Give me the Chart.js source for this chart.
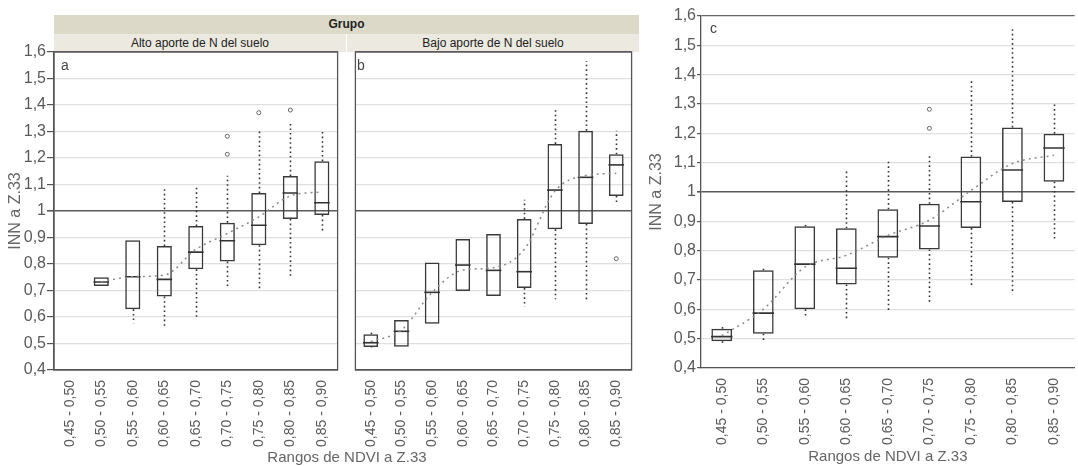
<!DOCTYPE html>
<html>
<head>
<meta charset="utf-8">
<script src="https://cdn.jsdelivr.net/npm/chart.js@4.4.1/dist/chart.umd.min.js"></script>
<style>
  html, body { margin:0; padding:0; background:#fff; }
  body { width:1078px; height:466px; overflow:hidden; position:relative; font-family:'Liberation Sans', Arial, sans-serif; }
  canvas { position:absolute; top:0; }
  .txt { position:absolute; white-space:nowrap; }
</style>
</head>
<body>
<div class="txt" style="left:54px;top:15px;width:585px;height:19px;line-height:19px;background:#dcd9c8;text-align:center;font-weight:bold;font-size:12px;color:#222;">Grupo</div>
<div class="txt" style="left:54px;top:34px;width:292px;height:18px;line-height:18px;background:#ebe9e0;text-align:center;font-size:12px;color:#222;">Alto aporte de N del suelo</div>
<div class="txt" style="left:347px;top:34px;width:292px;height:18px;line-height:18px;background:#ebe9e0;text-align:center;font-size:12px;color:#222;">Bajo aporte de N del suelo</div>
<canvas id="cA" width="347" height="466" style="left:0px"></canvas>
<canvas id="cB" width="295" height="466" style="left:346px"></canvas>
<canvas id="cC" width="447" height="466" style="left:640px"></canvas>
<div class="txt" style="left:61px;top:57px;font-size:14px;color:#444;">a</div>
<div class="txt" style="left:357px;top:57px;font-size:14px;color:#444;">b</div>
<div class="txt" style="left:710px;top:20px;font-size:14px;color:#444;">c</div>
<div class="txt" style="left:247px;top:448px;width:200px;text-align:center;font-size:15px;color:#666;">Rangos de NDVI a Z.33</div>
<script>
const categories = ['0,45 - 0,50','0,50 - 0,55','0,55 - 0,60','0,60 - 0,65','0,65 - 0,70','0,70 - 0,75','0,75 - 0,80','0,80 - 0,85','0,85 - 0,90'];
const yTitle = 'INN a Z.33';
const xTitle = 'Rangos de NDVI a Z.33';

// Panel a: Alto aporte de N del suelo
const aQ1   = [null, 0.717, 0.629, 0.677, 0.780, 0.809, 0.871, 0.970, 0.985];
const aQ3   = [null, 0.750, 0.890, 0.868, 0.943, 0.956, 1.068, 1.132, 1.188];
const aMed  = [null, 0.732, 0.752, 0.742, 0.845, 0.888, 0.946, 1.068, 1.031];
const aLow  = [null, 0.717, 0.576, 0.561, 0.601, 0.717, 0.708, 0.750, 0.916];
const aHigh = [null, 0.750, 0.890, 1.089, 1.098, 1.133, 1.303, 1.328, 1.299];
const aOutCat = ['0,70 - 0,75','0,70 - 0,75','0,75 - 0,80','0,80 - 0,85'];
const aOutVal = [1.214, 1.282, 1.371, 1.381];
const aTrend = [null, 0.733, 0.752, 0.758, 0.855, 0.915, 0.978, 1.057, 1.072];

// Panel b: Bajo aporte de N del suelo
const bQ1   = [0.487, 0.488, 0.575, 0.698, 0.679, 0.709, 0.931, 0.951, 1.057];
const bQ3   = [0.535, 0.589, 0.806, 0.894, 0.913, 0.970, 1.253, 1.303, 1.214];
const bMed  = [0.503, 0.546, 0.693, 0.796, 0.776, 0.771, 1.079, 1.127, 1.174];
const bLow  = [0.485, 0.488, 0.575, 0.698, 0.679, 0.639, 0.667, 0.664, 1.031];
const bHigh = [0.541, 0.589, 0.806, 0.894, 0.913, 1.042, 1.388, 1.566, 1.303];
const bOutCat = ['0,85 - 0,90'];
const bOutVal = [0.820];
const bTrend = [0.507, 0.551, 0.693, 0.777, 0.786, 0.855, 1.075, 1.134, 1.142];

// Panel c: todos
const cQ1   = [0.491, 0.517, 0.600, 0.685, 0.776, 0.804, 0.877, 0.966, 1.035];
const cQ3   = [0.534, 0.733, 0.883, 0.876, 0.941, 0.960, 1.121, 1.220, 1.199];
const cMed  = [0.507, 0.587, 0.754, 0.740, 0.848, 0.884, 0.967, 1.075, 1.150];
const cLow  = [0.485, 0.489, 0.574, 0.560, 0.594, 0.623, 0.674, 0.651, 0.835];
const cHigh = [0.540, 0.740, 0.888, 1.080, 1.104, 1.124, 1.381, 1.557, 1.303];
const cOutCat = ['0,70 - 0,75','0,70 - 0,75'];
const cOutVal = [1.217, 1.282];
const cTrend = [0.510, 0.600, 0.744, 0.784, 0.852, 0.904, 1.005, 1.097, 1.125];

Chart.defaults.font.family = "'Liberation Sans', Arial, sans-serif";
Chart.defaults.animation = false;

function fmt(v) {
  const r = Math.round(v * 10) / 10;
  return r === 1 ? '1' : r.toFixed(1).replace('.', ',');
}

function whiskerPlugin(q1, q3, low, high) {
  return {
    id: 'whiskers',
    beforeDatasetsDraw(chart) {
      const { ctx, scales: { x, y } } = chart;
      ctx.save();
      ctx.strokeStyle = '#333';
      ctx.lineWidth = 1.6;
      ctx.setLineDash([1.6, 3]);
      q1.forEach((v, i) => {
        if (v == null) return;
        const px = Math.round(x.getPixelForValue(i)) + 0.5;
        if (high[i] > q3[i]) {
          ctx.beginPath();
          ctx.moveTo(px, y.getPixelForValue(q3[i]));
          ctx.lineTo(px, y.getPixelForValue(high[i]));
          ctx.stroke();
        }
        if (low[i] < v) {
          ctx.beginPath();
          ctx.moveTo(px, y.getPixelForValue(v));
          ctx.lineTo(px, y.getPixelForValue(low[i]));
          ctx.stroke();
        }
      });
      ctx.restore();
    }
  };
}

const framePlugin = {
  id: 'frame',
  afterDraw(chart) {
    const { ctx, chartArea: a } = chart;
    ctx.save();
    ctx.strokeStyle = '#555';
    ctx.lineWidth = 1.3;
    ctx.strokeRect(a.left, a.top, a.right - a.left, a.bottom - a.top);
    ctx.restore();
  }
};

function build(id, d, o) {
  const plugins = [whiskerPlugin(d.q1, d.q3, d.low, d.high)];
  if (o.frame) plugins.push(framePlugin);
  return new Chart(document.getElementById(id), {
    type: 'bar',
    data: {
      labels: categories,
      datasets: [
        {
          type: 'line', data: d.trend, borderColor: '#8a8a8a', borderWidth: 1.5,
          borderDash: [2, 4], pointRadius: 0, tension: 0.4, cubicInterpolationMode: 'monotone', fill: false
        },
        {
          type: 'line', data: d.med, showLine: false, pointStyle: 'line',
          pointRadius: o.medR, pointBorderWidth: 1.6, pointBorderColor: '#333', pointBackgroundColor: '#333'
        },
        {
          type: 'line', data: d.outCat.map((c, i) => ({ x: c, y: d.outVal[i] })), showLine: false,
          pointStyle: 'circle', pointRadius: 2, pointBorderWidth: 1, pointBorderColor: '#666', pointBackgroundColor: '#fff'
        },
        {
          type: 'bar', data: d.q1.map((v, i) => v == null ? null : [v, d.q3[i]]),
          backgroundColor: 'rgba(0,0,0,0)', borderColor: '#3a3a3a', borderWidth: 1.5, borderSkipped: false,
          categoryPercentage: 1, barPercentage: o.barPct
        }
      ]
    },
    options: {
      responsive: false,
      animation: false,
      layout: { padding: o.padding },
      plugins: { legend: { display: false }, tooltip: { enabled: false } },
      scales: {
        x: {
          offset: true,
          grid: { display: false },
          border: { display: true, color: '#555', width: 1.3 },
          ticks: { autoSkip: false, minRotation: 90, maxRotation: 90, padding: 2, color: '#5a5a5a', font: { size: 14 } },
          title: o.xTitle ? { display: true, text: xTitle, color: '#666', font: { size: 15 }, padding: { top: 0, bottom: 0 } } : { display: false },
          afterFit(s) { s.height = o.xH; }
        },
        y: {
          min: 0.4, max: 1.6,
          ticks: { display: o.showY, stepSize: 0.1, padding: 1, color: '#5a5a5a', font: { size: 16 }, callback: (v) => fmt(v) },
          grid: {
            drawTicks: o.showY, tickLength: o.tickLen, tickColor: '#555',
            color: (c) => {
              const v = Math.round(c.tick.value * 10) / 10;
              if (v === 1) return '#5a5a5a';
              if (v === 1.6) return '#666';
              return '#e0e0e0';
            },
            lineWidth: (c) => (Math.round(c.tick.value * 10) / 10 === 1 ? 1.6 : 1.2)
          },
          border: { display: o.showY, color: '#555', width: 1.3 },
          title: o.showY ? { display: true, text: yTitle, color: '#666', font: { size: 16 }, padding: { top: o.titlePad, bottom: 0 } } : { display: false },
          afterFit(s) { s.width = o.yW; }
        }
      }
    },
    plugins
  });
}

build('cA', { q1: aQ1, q3: aQ3, med: aMed, low: aLow, high: aHigh, outCat: aOutCat, outVal: aOutVal, trend: aTrend },
  { frame: true, medR: 7.8, barPct: 0.48, padding: { left: 0, top: 52, right: 1, bottom: 0 }, xH: 96, showY: true, tickLen: 7, yW: 54, titlePad: 6.4, xTitle: false });
build('cB', { q1: bQ1, q3: bQ3, med: bMed, low: bLow, high: bHigh, outCat: bOutCat, outVal: bOutVal, trend: bTrend },
  { frame: true, medR: 7.8, barPct: 0.48, padding: { left: 1, top: 52, right: 2, bottom: 0 }, xH: 96, showY: false, tickLen: 0, yW: 0, titlePad: 0, xTitle: false });
build('cC', { q1: cQ1, q3: cQ3, med: cMed, low: cLow, high: cHigh, outCat: cOutCat, outVal: cOutVal, trend: cTrend },
  { frame: false, medR: 10.7, barPct: 0.5, padding: { left: 0, top: 16, right: 0, bottom: 0 }, xH: 98, showY: true, tickLen: 4, yW: 61, titlePad: 7.4, xTitle: true });
</script>
</body>
</html>
